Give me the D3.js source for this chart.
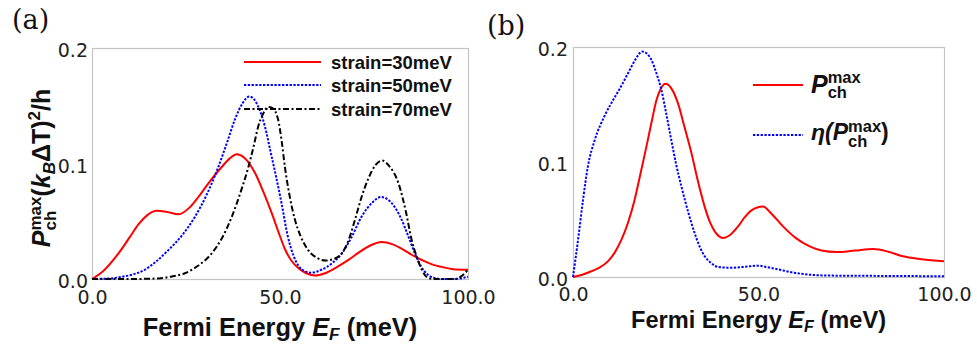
<!DOCTYPE html>
<html>
<head>
<meta charset="utf-8">
<script src="https://cdn.jsdelivr.net/npm/d3@7/dist/d3.min.js"></script>
<style>
body { margin: 0; background: #fff; }
svg { display: block; }
</style>
</head>
<body>
<svg id="chart" width="977" height="344"></svg>
<script>

// ticks shared by both panels
var xTicks = [0, 50, 100];
var yTicks = [0, 0.1, 0.2];

// panel (a): strain = 30 meV
var aRedX = [0, 3, 7, 10, 12.3, 15, 17.2, 20, 23, 26, 28.3, 31, 34.5, 36.5, 38.5, 40.5, 43.4, 45.5, 47.8, 50, 51.3, 53, 55, 57, 59.3, 62, 65, 68.2, 71, 74, 77, 80, 83, 85, 88, 91, 93, 96, 100];
var aRedY = [0, 0.007, 0.022, 0.036, 0.047, 0.056, 0.059, 0.058, 0.056, 0.062, 0.071, 0.083, 0.097, 0.104, 0.108, 0.105, 0.0915, 0.076, 0.057, 0.037, 0.026, 0.016, 0.009, 0.005, 0.003, 0.005, 0.010, 0.0165, 0.023, 0.029, 0.032, 0.030, 0.025, 0.021, 0.016, 0.012, 0.0105, 0.0085, 0.008];

// panel (a): strain = 50 meV
var aBlueX = [0, 5, 8, 11, 14, 17, 20.3, 24, 27.4, 30.5, 33.6, 36, 38, 40, 41.8, 43, 44.5, 46, 47.5, 49, 50.5, 52, 53.5, 55, 56.5, 58.4, 61, 64, 66.4, 69, 71.7, 74.5, 76.9, 79, 82.4, 84, 85.9, 87.5, 89.4, 91, 93, 96, 98, 100];
var aBlueY = [0, 0.0005, 0.002, 0.004, 0.008, 0.015, 0.025, 0.038, 0.054, 0.073, 0.097, 0.119, 0.138, 0.152, 0.158, 0.156, 0.147, 0.132, 0.110, 0.088, 0.064, 0.038, 0.021, 0.011, 0.007, 0.0055, 0.008, 0.014, 0.022, 0.036, 0.054, 0.066, 0.071, 0.068, 0.051, 0.038, 0.022, 0.011, 0.0035, 0.001, 0, 0, 0.0005, 0.002];

// panel (a): strain = 70 meV
var aBlackX = [0, 10, 17.6, 21, 24.7, 28, 31.8, 34.5, 37.2, 39.5, 41.6, 43, 44.2, 45.5, 46.9, 48, 49.5, 50.5, 51.3, 52.5, 54, 55.5, 57.5, 60, 62, 64, 66.4, 68.5, 70, 71.7, 73.5, 75.5, 77.2, 79, 81.5, 83.5, 85, 86.5, 87.7, 89.4, 91, 96.5, 98.5, 100];
var aBlackY = [0, 0, 0.0005, 0.002, 0.005, 0.011, 0.022, 0.035, 0.054, 0.075, 0.097, 0.115, 0.132, 0.143, 0.149, 0.148, 0.138, 0.118, 0.097, 0.073, 0.051, 0.037, 0.025, 0.018, 0.016, 0.017, 0.022, 0.036, 0.052, 0.071, 0.087, 0.099, 0.1025, 0.098, 0.083, 0.058, 0.034, 0.018, 0.008, 0.001, 0, 0, 0.003, 0.008];

// panel (b): P_ch^max
var bRedX = [0, 2.5, 4.95, 7, 9.4, 11.2, 13, 14.8, 16.6, 18.2, 19.8, 21.2, 22.5, 23.7, 24.9, 26.5, 28.3, 30, 31.9, 33.7, 35.5, 37, 38.2, 40.4, 42.5, 44.5, 46.3, 48.1, 51.2, 53.5, 56.6, 60, 63.8, 67, 71, 76, 80.9, 85, 88.9, 94, 100];
var bRedY = [0, 0.002, 0.005, 0.008, 0.0136, 0.021, 0.032, 0.047, 0.067, 0.09, 0.1136, 0.135, 0.154, 0.164, 0.168, 0.164, 0.151, 0.131, 0.108, 0.083, 0.061, 0.047, 0.0397, 0.034, 0.037, 0.044, 0.052, 0.058, 0.0614, 0.055, 0.044, 0.034, 0.0266, 0.023, 0.0217, 0.023, 0.0243, 0.022, 0.018, 0.0155, 0.0136];

// panel (b): eta(P_ch^max)
var bBlueX = [0, 1.35, 2.7, 4, 5.85, 8.5, 11.2, 13, 14.8, 16.8, 18.6, 20, 21.1, 22.5, 23.8, 25.2, 26.5, 27.8, 29.2, 31, 32.8, 34.2, 35.5, 37.3, 39.1, 42.7, 46, 49.9, 53, 56.6, 60, 63.8, 70, 80, 90, 100];
var bBlueY = [0, 0.032, 0.067, 0.096, 0.119, 0.14, 0.156, 0.166, 0.177, 0.189, 0.196, 0.194, 0.189, 0.177, 0.163, 0.141, 0.119, 0.098, 0.079, 0.057, 0.038, 0.026, 0.018, 0.012, 0.0087, 0.008, 0.0088, 0.0098, 0.0082, 0.0057, 0.0035, 0.002, 0.0012, 0.001, 0.0008, 0.0007];

var legendA = ["strain=30meV", "strain=50meV", "strain=70meV"];

var svg = d3.select("#chart");
var tickFont = "'DejaVu Sans', Verdana, sans-serif";
var boldFont = "'Liberation Sans', Arial, sans-serif";

function zip(xs, ys) {
    return xs.map(function (x, i) { return [x, ys[i]]; });
}

function drawPanel(left, right, top, bottom, tickDx, tickDy) {
    var x = d3.scaleLinear().domain([0, 100]).range([left, right]);
    var y = d3.scaleLinear().domain([0, 0.2]).range([bottom, top]);

    svg.append("rect")
        .attr("x", left + 0.5).attr("y", top + 0.5)
        .attr("width", right - left).attr("height", bottom - top)
        .attr("fill", "none").attr("stroke", "#c4c4c4").attr("stroke-width", 1.2);

    var gx = svg.append("g").attr("transform", "translate(0," + bottom + ")")
        .call(d3.axisBottom(x).tickValues(xTicks).tickSize(0).tickFormat(d3.format(".1f")));
    var gy = svg.append("g").attr("transform", "translate(" + left + ",0)")
        .call(d3.axisLeft(y).tickValues(yTicks).tickSize(0).tickFormat(d3.format(".1f")));
    gx.select(".domain").remove();
    gy.select(".domain").remove();
    gx.selectAll("text").attr("dy", null).attr("y", tickDy)
        .attr("font-family", tickFont).attr("font-size", 19).attr("fill", "#222");
    gy.selectAll("text").attr("dy", "0.45em").attr("x", tickDx)
        .attr("font-family", tickFont).attr("font-size", 19).attr("fill", "#222");

    return { x: x, y: y };
}

function drawLine(p, xs, ys, color, dash) {
    var line = d3.line()
        .x(function (d) { return p.x(d[0]); })
        .y(function (d) { return p.y(d[1]); })
        .curve(d3.curveMonotoneX);
    svg.append("path")
        .datum(zip(xs, ys))
        .attr("d", line)
        .attr("fill", "none")
        .attr("stroke", color)
        .attr("stroke-width", 2)
        .attr("stroke-dasharray", dash);
}

// P with stacked "max" / "ch"; returns the shifts the next tspan needs
function addPch(txt, big, small, raise, lower) {
    txt.append("tspan").attr("font-style", "italic").attr("font-size", big).text("P");
    var sup = txt.append("tspan").attr("font-size", small).attr("dy", -raise).text("max");
    var wSup = sup.node().getComputedTextLength();
    var sub = txt.append("tspan").attr("font-size", small).attr("dx", -wSup).attr("dy", raise + lower).text("ch");
    var wSub = sub.node().getComputedTextLength();
    return { dx: wSup - wSub, dy: -lower };
}

function xTitle(cx, base, size) {
    var t = svg.append("text")
        .attr("x", cx).attr("y", base)
        .attr("text-anchor", "middle")
        .attr("font-family", boldFont).attr("font-weight", "bold")
        .attr("font-size", size).attr("fill", "#111");
    t.append("tspan").text("Fermi Energy ");
    t.append("tspan").attr("font-style", "italic").text("E");
    t.append("tspan").attr("font-style", "italic").attr("font-size", size * 0.68).attr("dy", 4).text("F");
    t.append("tspan").attr("dy", -4).text(" (meV)");
}

// ---- panel (a)
var pa = drawPanel(92, 468, 48, 279, -4, 25);
drawLine(pa, aRedX, aRedY, "#ff0000", null);
drawLine(pa, aBlueX, aBlueY, "#0000ff", "2.3,1.5");
drawLine(pa, aBlackX, aBlackY, "#000000", "6,2.5,2,2.5");

var legY = [62, 85, 109];
var legColor = ["#ff0000", "#0000ff", "#000000"];
var legDash = [null, "2.3,1.5", "6,2.5,2,2.5"];
for (var i = 0; i < legendA.length; i++) {
    svg.append("line")
        .attr("x1", 244).attr("x2", 321).attr("y1", legY[i]).attr("y2", legY[i])
        .attr("stroke", legColor[i]).attr("stroke-width", 2).attr("stroke-dasharray", legDash[i]);
    svg.append("text")
        .attr("x", 331).attr("y", legY[i] + 7)
        .attr("font-family", boldFont).attr("font-weight", "bold").attr("font-size", 18.5)
        .attr("fill", "#111").text(legendA[i]);
}

xTitle(280, 336, 25.4);

var yt = svg.append("text")
    .attr("transform", "translate(50,168) rotate(-90)")
    .attr("text-anchor", "middle")
    .attr("font-family", boldFont).attr("font-weight", "bold")
    .attr("font-size", 25).attr("fill", "#111");
var s = addPch(yt, 25, 17, 9, 6);
yt.append("tspan").attr("dx", s.dx).attr("dy", s.dy).text("(");
yt.append("tspan").attr("font-style", "italic").text("k");
yt.append("tspan").attr("font-style", "italic").attr("font-size", 17).attr("dy", 5).text("B");
yt.append("tspan").attr("dy", -5).text("ΔT)");
yt.append("tspan").attr("font-size", 17).attr("dy", -10).text("2");
yt.append("tspan").attr("dy", 10).text("/h");

svg.append("text").attr("x", 12).attr("y", 29)
    .attr("font-family", "'DejaVu Serif', serif").attr("font-size", 27).attr("fill", "#111").text("(a)");

// ---- panel (b)
var pb = drawPanel(573, 944, 47, 277, -5, 24);
drawLine(pb, bRedX, bRedY, "#ff0000", null);
drawLine(pb, bBlueX, bBlueY, "#0000ff", "2.3,1.5");

svg.append("line").attr("x1", 753).attr("x2", 803).attr("y1", 85).attr("y2", 85)
    .attr("stroke", "#ff0000").attr("stroke-width", 2);
svg.append("line").attr("x1", 753).attr("x2", 803).attr("y1", 135).attr("y2", 135)
    .attr("stroke", "#0000ff").attr("stroke-width", 2).attr("stroke-dasharray", "2.3,1.5");

var l1 = svg.append("text").attr("x", 811).attr("y", 93)
    .attr("font-family", boldFont).attr("font-weight", "bold").attr("fill", "#111");
addPch(l1, 25, 16.5, 10, 5);

var l2 = svg.append("text").attr("x", 811).attr("y", 140)
    .attr("font-family", boldFont).attr("font-weight", "bold").attr("font-size", 23).attr("fill", "#111");
l2.append("tspan").attr("font-style", "italic").text("η(");
var s2 = addPch(l2, 23, 16.5, 8, 7);
l2.append("tspan").attr("dx", s2.dx).attr("dy", s2.dy).text(")");

xTitle(758.5, 328, 23.6);

svg.append("text").attr("x", 487).attr("y", 35)
    .attr("font-family", "'DejaVu Serif', serif").attr("font-size", 27).attr("fill", "#111").text("(b)");

</script>
</body>
</html>
